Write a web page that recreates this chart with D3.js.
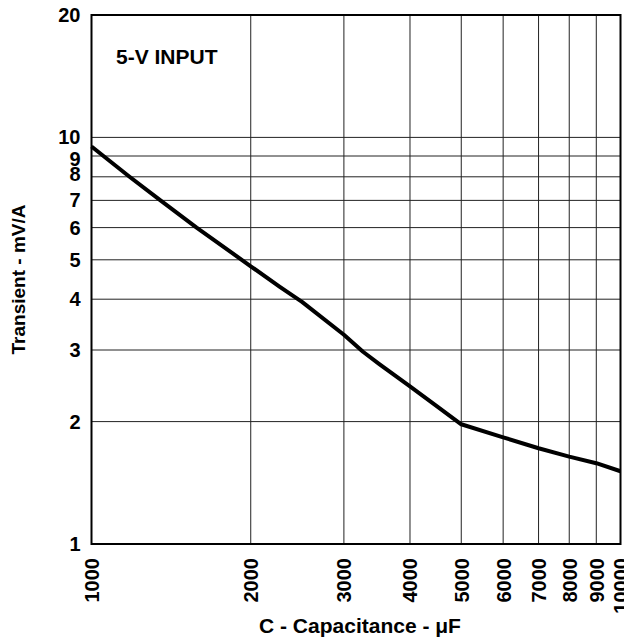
<!DOCTYPE html>
<html>
<head>
<meta charset="utf-8">
<script src="https://cdn.jsdelivr.net/npm/d3@7"></script>
<style>
  body { margin: 0; background: #fff; }
  text { font-family: "Liberation Sans", Arial, sans-serif; font-weight: bold; fill: #000; }
</style>
</head>
<body>
<div id="chart"></div>
<script>
// Data
var capacitance = [1000, 1180, 1350, 1580, 2000, 2270, 2500, 3000, 3260, 3500, 4000, 4500, 5000, 6000, 7000, 8000, 9000, 10000];
var transient = [9.5, 8.0, 7.0, 6.0, 4.82, 4.29, 3.94, 3.27, 2.97, 2.77, 2.44, 2.18, 1.97, 1.83, 1.72, 1.64, 1.58, 1.51];

var xTicks = [1000, 2000, 3000, 4000, 5000, 6000, 7000, 8000, 9000, 10000];
var yTicks = [1, 2, 3, 4, 5, 6, 7, 8, 9, 10, 20];

var svgWidth = 624;
var svgHeight = 641;

var margin = { top: 15, right: 3.5, bottom: 97, left: 91.5 };
var width = svgWidth - margin.left - margin.right;
var height = svgHeight - margin.top - margin.bottom;

var svg = d3.select("#chart")
  .append("svg")
  .attr("width", svgWidth)
  .attr("height", svgHeight);

var chartGroup = svg.append("g")
  .attr("transform", `translate(${margin.left}, ${margin.top})`);

var xScale = d3.scaleLog().domain([1000, 10000]).range([0, width]);
var yScale = d3.scaleLog().domain([1, 20]).range([height, 0]);

// grid lines
chartGroup.selectAll(".vgrid")
  .data(xTicks.slice(1, -1))
  .enter()
  .append("line")
  .attr("x1", d => xScale(d))
  .attr("x2", d => xScale(d))
  .attr("y1", 0)
  .attr("y2", height)
  .attr("stroke", "#222")
  .attr("stroke-width", 1);

chartGroup.selectAll(".hgrid")
  .data(yTicks.slice(1, -1))
  .enter()
  .append("line")
  .attr("x1", 0)
  .attr("x2", width)
  .attr("y1", d => yScale(d))
  .attr("y2", d => yScale(d))
  .attr("stroke", "#222")
  .attr("stroke-width", 1);

// frame
chartGroup.append("rect")
  .attr("width", width)
  .attr("height", height)
  .attr("fill", "none")
  .attr("stroke", "#000")
  .attr("stroke-width", 2);

// curve
var line = d3.line()
  .x((d, i) => xScale(capacitance[i]))
  .y(d => yScale(d));

chartGroup.append("path")
  .datum(transient)
  .attr("d", line)
  .attr("fill", "none")
  .attr("stroke", "#000")
  .attr("stroke-width", 4)
  .attr("stroke-linejoin", "round");

// y tick labels (9 and 8 squeezed together like the original)
var nudge = { 9: 3, 8: -3 };
chartGroup.selectAll(".ylabel")
  .data(yTicks)
  .enter()
  .append("text")
  .attr("x", -11)
  .attr("y", d => yScale(d) + 7 + (nudge[d] || 0))
  .attr("text-anchor", "end")
  .style("font-size", "20px")
  .text(d => d);

// x tick labels, rotated
chartGroup.selectAll(".xlabel")
  .data(xTicks)
  .enter()
  .append("text")
  .attr("transform", d => `translate(${xScale(d) + 7.5}, ${height + 14}) rotate(-90)`)
  .attr("text-anchor", "end")
  .style("font-size", "20px")
  .text(d => d);

// annotation
chartGroup.append("text")
  .attr("x", 24.5)
  .attr("y", 49)
  .style("font-size", "21px")
  .text("5-V INPUT");

// axis titles
svg.append("text")
  .attr("x", margin.left + width / 2 + 4)
  .attr("y", 633)
  .attr("text-anchor", "middle")
  .style("font-size", "21px")
  .text("C - Capacitance - \u03bcF");

svg.append("text")
  .attr("transform", `translate(25, ${margin.top + height / 2}) rotate(-90)`)
  .attr("text-anchor", "middle")
  .style("font-size", "19px")
  .text("Transient - mV/A");
</script>
</body>
</html>
